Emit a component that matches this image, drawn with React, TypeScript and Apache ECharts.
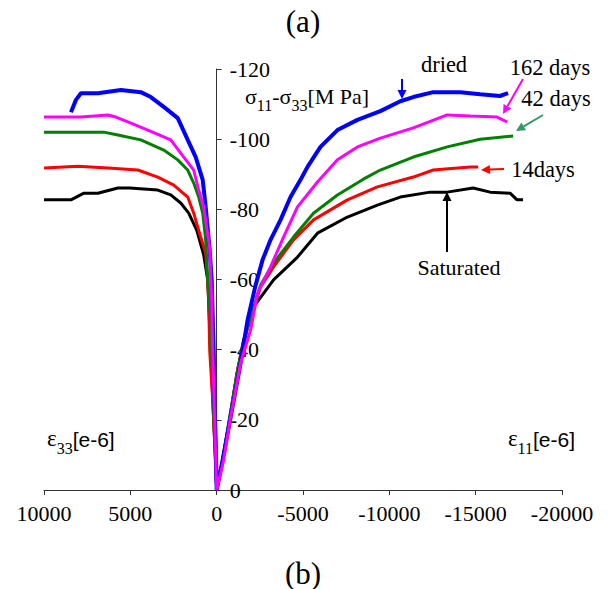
import React, { useEffect, useRef } from "react";
import * as echarts from "echarts";

// [strain (1e-6), stress (MPa)] ; left branch = eps33 (tip -> origin), right branch = eps11 (origin -> tip)
const driedLeft: [number, number][] = [
  [8439, -107.7], [8150, -111.2], [7861, -113.1], [6878, -113.1], [5549, -114.0], [4393, -113.4],
  [3815, -112.0], [3063, -109.2], [2254, -106.0], [1676, -99.8], [1214, -94.9], [809, -88.4],
  [636, -80.7], [405, -68.4], [289, -59.9], [173, -39.9], [116, -22.8], [58, -14.3], [0, 0],
];
const driedRight: [number, number][] = [
  [0, 0], [-347, -8.6], [-809, -20.8], [-1387, -36.2], [-1792, -48.5], [-2254, -58.4], [-2659, -65.6],
  [-3121, -71.3], [-3699, -77.0], [-4277, -83.5], [-4855, -88.4], [-5260, -92.1], [-6011, -97.8],
  [-6994, -102.6], [-8150, -105.5], [-9479, -108.0], [-10635, -110.8], [-11387, -112.0],
  [-12543, -113.4], [-14100, -113.4], [-15259, -112.8], [-16400, -112.3], [-16878, -113.1],
];
const days162Left: [number, number][] = [
  [10000, -106.3], [7861, -106.3], [6300, -106.9], [5838, -106.3], [5144, -104.9], [3988, -102.6],
  [2659, -99.8], [1907, -94.9], [1329, -91.2], [1040, -85.5], [751, -80.7], [405, -69.0],
  [289, -54.2], [231, -39.9], [116, -20.0], [0, 0],
];
const days162Right: [number, number][] = [
  [0, 0], [-405, -8.6], [-809, -20.8], [-1387, -36.2], [-1965, -45.6], [-2370, -56.1], [-3121, -63.6],
  [-3873, -72.1], [-4682, -80.7], [-5838, -87.8], [-6994, -94.1], [-8150, -97.8], [-9479, -100.3],
  [-11387, -103.2], [-13351, -106.9], [-14681, -106.6], [-16242, -106.3], [-16820, -104.9],
];
const days42Left: [number, number][] = [
  [10000, -102.0], [6531, -102.0], [5722, -101.2], [4393, -99.8], [3063, -96.9], [2254, -94.1],
  [1676, -91.2], [1329, -87.5], [1040, -83.5], [809, -78.9], [636, -71.3], [520, -59.9],
  [347, -48.5], [231, -31.4], [116, -14.3], [0, 0],
];
const days42Right: [number, number][] = [
  [0, 0], [-347, -8.6], [-751, -20.8], [-1272, -35.6], [-1734, -45.6], [-2543, -58.4], [-3295, -64.7],
  [-4450, -72.1], [-5607, -78.9], [-6994, -84.1], [-8497, -88.6], [-9479, -91.2], [-11387, -94.9],
  [-13351, -97.8], [-15259, -100.0], [-17167, -100.9],
];
const days14Left: [number, number][] = [
  [10000, -91.8], [8034, -92.3], [6300, -91.8], [4566, -91.2], [3410, -89.2], [2485, -86.9],
  [1676, -83.5], [1329, -78.9], [925, -72.1], [636, -67.5], [520, -59.9], [462, -54.2],
  [405, -39.9], [231, -25.7], [58, -8.6], [0, 0],
];
const days14Right: [number, number][] = [
  [0, 0], [-347, -8.6], [-751, -20.0], [-1214, -34.2], [-1676, -44.2], [-2543, -57.9], [-3295, -63.6],
  [-4450, -71.3], [-5607, -77.0], [-7572, -82.7], [-9306, -86.4], [-11387, -89.2], [-12543, -91.2],
  [-14681, -92.1], [-15143, -92.1],
];
const saturatedLeft: [number, number][] = [
  [10000, -82.7], [8439, -82.7], [7687, -84.6], [6878, -84.6], [5722, -86.1], [5029, -86.1],
  [3410, -85.5], [2659, -84.1], [2081, -81.8], [1618, -78.9], [1156, -74.1], [751, -67.0],
  [520, -59.9], [347, -39.9], [173, -20.0], [0, 0],
];
const saturatedRight: [number, number][] = [
  [0, 0], [-347, -8.6], [-751, -20.0], [-1156, -32.8], [-1561, -42.8], [-2139, -52.2], [-3295, -59.9],
  [-4682, -66.4], [-5838, -73.2], [-7572, -77.8], [-9306, -81.2], [-10635, -83.5], [-12369, -84.9],
  [-13351, -84.9], [-14855, -86.1], [-15837, -84.9], [-16993, -84.6], [-17398, -82.7], [-17745, -82.7],
];

const xTicks = { min: -20000, max: 10000, interval: 5000 };
const yTicks = { min: -120, max: 0, interval: 20 };

const FONT = "Liberation Serif, Times New Roman, serif";
const SANS = "Liberation Sans, Arial, sans-serif";
const GRID_LEFT = 44;
const GRID_RIGHT = 46;
const CHART_W = 608;

function arrow(x1: number, y1: number, x2: number, y2: number, color: string) {
  const dx = x2 - x1, dy = y2 - y1;
  const len = Math.sqrt(dx * dx + dy * dy);
  const ux = dx / len, uy = dy / len;
  const hl = 9, hw = 4.5;
  const bx = x2 - ux * hl, by = y2 - uy * hl;
  return {
    type: "group",
    children: [
      { type: "line", shape: { x1, y1, x2: bx, y2: by }, style: { stroke: color, lineWidth: 2 } },
      {
        type: "polygon",
        shape: { points: [[x2, y2], [bx - uy * hw, by + ux * hw], [bx + uy * hw, by - ux * hw]] },
        style: { fill: color },
      },
    ],
  };
}

function txt(x: number, y: number, text: string, size: number, align = "center", rich?: any, family = FONT) {
  return {
    type: "text",
    x,
    y,
    style: {
      text,
      fontFamily: family,
      fontSize: size,
      fill: "#000",
      align,
      verticalAlign: "middle",
      rich,
    },
  };
}

const sigmaRich = {
  s: { fontFamily: FONT, fontSize: 22, lineHeight: 26, verticalAlign: "bottom" },
  sub: { fontFamily: FONT, fontSize: 16, lineHeight: 26, verticalAlign: "bottom", padding: [0, 0, -6, 0] },
};
const epsRich = {
  s: { fontFamily: SANS, fontSize: 21, lineHeight: 26, verticalAlign: "bottom" },
  g: { fontFamily: FONT, fontSize: 23, lineHeight: 26, verticalAlign: "bottom" },
  sub: { fontFamily: FONT, fontSize: 16, lineHeight: 26, verticalAlign: "bottom", padding: [0, 0, -6, 0] },
};

function mk(name: string, left: [number, number][], right: [number, number][], color: string, width: number) {
  return {
    name,
    type: "line",
    data: [...left, ...right.slice(1)],
    showSymbol: false,
    symbol: "none",
    lineStyle: { color, width },
    itemStyle: { color },
  };
}

export default function App() {
  const ref = useRef<HTMLDivElement>(null);
  useEffect(() => {
    document.body.style.margin = "0";
    const chart = echarts.init(ref.current!, null, { renderer: "svg" });
    // horizontal pixel of strain 0, so the stress axis sits there
    const plotW = CHART_W - GRID_LEFT - GRID_RIGHT;
    const zeroOffset = (plotW * (xTicks.max - 0)) / (xTicks.max - xTicks.min);
    chart.setOption({
      animation: false,
      backgroundColor: "#fff",
      textStyle: { fontFamily: FONT },
      grid: { left: GRID_LEFT, right: GRID_RIGHT, top: 69, bottom: 99, containLabel: false },
      xAxis: {
        type: "value",
        min: xTicks.min,
        max: xTicks.max,
        interval: xTicks.interval,
        inverse: true,
        splitLine: { show: false },
        axisLine: { lineStyle: { color: "#333", width: 1 } },
        axisTick: { length: 5, lineStyle: { color: "#333" } },
        axisLabel: {
          color: "#000",
          fontFamily: FONT,
          fontSize: 22,
          margin: 12,
          formatter: (v: number) => String(v),
        },
      },
      yAxis: {
        type: "value",
        min: yTicks.min,
        max: yTicks.max,
        interval: yTicks.interval,
        inverse: true,
        position: "left",
        offset: -zeroOffset,
        splitLine: { show: false },
        axisLine: { onZero: false, lineStyle: { color: "#333", width: 1 } },
        axisTick: { inside: true, length: 5, lineStyle: { color: "#333" } },
        axisLabel: {
          inside: true,
          color: "#000",
          fontFamily: FONT,
          fontSize: 22,
          margin: 13,
          formatter: (v: number) => String(v),
        },
      },
      series: [
        mk("Saturated", saturatedLeft, saturatedRight, "#000000", 3),
        mk("14days", days14Left, days14Right, "#FF0000", 3),
        mk("42 days", days42Left, days42Right, "#008000", 3),
        mk("dried", driedLeft, driedRight, "#0000FF", 4),
        mk("162 days", days162Left, days162Right, "#FF00FF", 3),
      ],
      graphic: [
        txt(303, 21, "(a)", 31),
        txt(303, 573, "(b)", 31),
        txt(245, 94, "{s|σ}{sub|11}{s|-σ}{sub|33}{s|[M Pa]}", 22, "left", sigmaRich),
        txt(47, 437, "{g|ε}{sub|33}{s|[e-6]}", 21, "left", epsRich, SANS),
        txt(575, 437, "{g|ε}{sub|11}{s|[e-6]}", 21, "right", epsRich, SANS),
        txt(444, 64, "dried", 22.5),
        arrow(402, 79, 402, 99, "#0000FF"),
        txt(550, 67, "162 days", 22.5),
        arrow(523, 79, 503, 114, "#FF00FF"),
        txt(556, 98, "42 days", 22.5),
        arrow(543, 115, 516, 131, "#339966"),
        txt(543, 169, "14days", 22.5),
        arrow(504, 169, 481, 170, "#FF0000"),
        txt(459, 267, "Saturated", 22),
        arrow(447, 252, 447, 192, "#000000"),
      ],
    });
    return () => chart.dispose();
  }, []);
  return <div ref={ref} style={{ width: CHART_W, height: 589 }} />;
}
